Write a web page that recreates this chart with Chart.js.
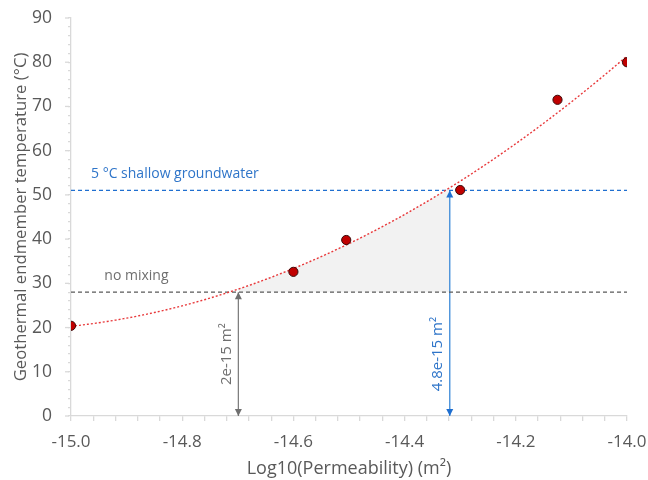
<!DOCTYPE html>
<html>
<head>
<meta charset="utf-8">
<script src="https://cdn.jsdelivr.net/npm/chart.js@4.4.1/dist/chart.umd.min.js"></script>
<style>
  html, body { margin: 0; padding: 0; background: #fff; }
  #wrap { width: 648px; height: 480px; }
</style>
</head>
<body>
<div id="wrap"><canvas id="chart" width="648" height="480"></canvas></div>
<script>
// Model runs: log10 permeability vs. geothermal endmember temperature
const logPerm = [-15.0, -14.6, -14.505, -14.3, -14.125, -14.0];
const endTemp = [20.4, 32.6, 39.8, 51.1, 71.5, 80.0];

// Mixing thresholds (°C) and the permeabilities where the fit crosses them
const thresholds = [28, 51];
const thresholdLabels = ['no mixing', '5 °C shallow groundwater'];
const crossPerm = [2e-15, 4.8e-15];
const crossLabels = ['2e-15 m²', '4.8e-15 m²'];

const xTicks = [-15.0, -14.8, -14.6, -14.4, -14.2, -14.0];
const yTicks = [0, 10, 20, 30, 40, 50, 60, 70, 80, 90];

const GRAY = '#595959';
const BLUE = '#2f75c9';
const AXIS = '#d9d9d9';
const FONT = 'Open Sans';

// second order polynomial trendline (least squares, x shifted for conditioning)
function polyFit2(xs, ys, x0) {
  let s = [0, 0, 0, 0, 0], t = [0, 0, 0];
  xs.forEach((x, i) => {
    const u = x - x0;
    for (let k = 0; k < 5; k++) s[k] += Math.pow(u, k);
    for (let k = 0; k < 3; k++) t[k] += ys[i] * Math.pow(u, k);
  });
  const m = [[s[0], s[1], s[2], t[0]], [s[1], s[2], s[3], t[1]], [s[2], s[3], s[4], t[2]]];
  for (let c = 0; c < 3; c++) {
    for (let r = c + 1; r < 3; r++) {
      const f = m[r][c] / m[c][c];
      for (let k = c; k < 4; k++) m[r][k] -= f * m[c][k];
    }
  }
  const a = [0, 0, 0];
  for (let r = 2; r >= 0; r--) {
    let v = m[r][3];
    for (let k = r + 1; k < 3; k++) v -= m[r][k] * a[k];
    a[r] = v / m[r][r];
  }
  return x => a[0] + a[1] * (x - x0) + a[2] * (x - x0) * (x - x0);
}

const fit = polyFit2(logPerm, endTemp, -15);
const xMin = xTicks[0], xMax = xTicks[xTicks.length - 1];
const trend = [];
for (let i = 0; i <= 200; i++) {
  const x = xMin + (xMax - xMin) * i / 200;
  trend.push({ x, y: fit(x) });
}

const crossX = crossPerm.map(k => Math.log10(k));

// area under the fit between the two crossings, above the no-mixing line
const shade = [];
for (let i = 0; i <= 60; i++) {
  const x = crossX[0] + (crossX[1] - crossX[0]) * i / 60;
  shade.push({ x, y: fit(x) });
}

const pts = logPerm.map((x, i) => ({ x, y: endTemp[i] }));

const hLines = thresholds.map((t, i) => ({
  data: [{ x: xMin, y: t }, { x: xMax, y: t }],
  borderColor: i === 0 ? '#5a5a5a' : '#1f6fd0',
  borderWidth: 1.3,
  borderDash: [4, 3],
  showLine: true,
  pointRadius: 0,
  order: 3
}));

const vLines = crossX.map((x, i) => ({
  data: [{ x, y: 0 }, { x, y: thresholds[i] }],
  borderColor: i === 0 ? '#7f7f7f' : '#3c8ad8',
  borderWidth: 1.3,
  showLine: true,
  pointRadius: 0,
  order: 3
}));

function nearMult(v, step) {
  return Math.abs(v / step - Math.round(v / step)) < 1e-6;
}

// longer marks for the labelled y ticks
const majorTicks = {
  id: 'majorTicks',
  afterDraw(chart) {
    const ctx = chart.ctx, ys = chart.scales.y;
    const x0 = ys.right;
    ctx.save();
    ctx.strokeStyle = AXIS;
    ctx.lineWidth = 1.3;
    yTicks.forEach(v => {
      const py = ys.getPixelForValue(v);
      ctx.beginPath();
      ctx.moveTo(x0 - 6, py);
      ctx.lineTo(x0 - 2, py);
      ctx.stroke();
    });
    ctx.restore();
  }
};

// arrowheads and annotation text
const annotate = {
  id: 'annotate',
  afterDatasetsDraw(chart) {
    const ctx = chart.ctx;
    const xs = chart.scales.x, ys = chart.scales.y;

    function head(px, py, dir, color) {
      ctx.beginPath();
      ctx.moveTo(px, py);
      ctx.lineTo(px - 3.5, py - dir * 7);
      ctx.lineTo(px + 3.5, py - dir * 7);
      ctx.closePath();
      ctx.fillStyle = color;
      ctx.fill();
    }

    ctx.save();
    crossX.forEach((x, i) => {
      const px = xs.getPixelForValue(x);
      const col = i === 0 ? '#6f6f6f' : '#1f6fd0';
      head(px, ys.getPixelForValue(0), 1, col);
      head(px, ys.getPixelForValue(thresholds[i]), -1, col);

      ctx.save();
      ctx.translate(px - 12, ys.getPixelForValue(14));
      ctx.rotate(-Math.PI / 2);
      ctx.font = '15px "' + FONT + '"';
      ctx.fillStyle = i === 0 ? '#6f6f6f' : BLUE;
      ctx.textAlign = 'center';
      ctx.textBaseline = 'middle';
      ctx.fillText(crossLabels[i], 0, 0);
      ctx.restore();
    });

    const textLeft = [xs.getPixelForValue(-14.94), xs.getPixelForValue(-14.964)];
    thresholds.forEach((t, i) => {
      ctx.font = '14px "' + FONT + '"';
      ctx.fillStyle = i === 0 ? '#6f6f6f' : BLUE;
      ctx.textAlign = 'left';
      ctx.textBaseline = 'middle';
      ctx.fillText(thresholdLabels[i], textLeft[i], ys.getPixelForValue(t) - 16);
    });
    ctx.restore();
  }
};

new Chart(document.getElementById('chart'), {
  type: 'scatter',
  data: {
    datasets: [
      {
        data: shade,
        showLine: true,
        borderWidth: 0,
        borderColor: 'rgba(0,0,0,0)',
        backgroundColor: '#f2f2f2',
        fill: { value: thresholds[0] },
        pointRadius: 0,
        order: 5
      },
      ...hLines,
      ...vLines,
      {
        data: trend,
        showLine: true,
        borderColor: '#e8383a',
        borderWidth: 1.4,
        borderDash: [2, 2],
        pointRadius: 0,
        order: 2
      },
      {
        data: pts,
        backgroundColor: '#c00000',
        borderColor: '#3b0a0a',
        borderWidth: 1,
        pointRadius: 4.6,
        order: 1
      }
    ]
  },
  options: {
    responsive: false,
    animation: false,
    layout: { padding: { top: 18, right: 21, left: 0, bottom: 0 } },
    plugins: {
      legend: { display: false },
      tooltip: { enabled: false }
    },
    scales: {
      x: {
        type: 'linear',
        min: xMin,
        max: xMax,
        afterFit: s => { s.height = 64; s.paddingLeft = 0; s.paddingRight = 0; },
        border: { color: AXIS, width: 1.3 },
        grid: { drawOnChartArea: false, drawTicks: true, tickLength: 5, color: AXIS, lineWidth: 1.3 },
        ticks: {
          stepSize: 0.04,
          autoSkip: false,
          maxRotation: 0,
          color: GRAY,
          font: { family: FONT, size: 17 },
          padding: 11,
          callback: v => (nearMult(v, 0.2) && xTicks.some(t => Math.abs(t - v) < 1e-6)) ? v.toFixed(1) : ''
        },
        title: {
          display: true,
          text: 'Log10(Permeability) (m²)',
          color: GRAY,
          font: { family: FONT, size: 18 },
          padding: { top: 0, bottom: 0 }
        }
      },
      y: {
        type: 'linear',
        min: yTicks[0],
        max: yTicks[yTicks.length - 1],
        afterFit: s => { s.width = 71; s.paddingTop = 0; s.paddingBottom = 0; },
        border: { color: AXIS, width: 1.3 },
        grid: { drawOnChartArea: false, drawTicks: true, tickLength: 3, color: AXIS, lineWidth: 1.3 },
        ticks: {
          stepSize: 2,
          autoSkip: false,
          color: GRAY,
          font: { family: FONT, size: 17.5 },
          padding: 16,
          callback: v => yTicks.includes(v) ? String(v) : ''
        },
        title: {
          display: true,
          text: 'Geothermal endmember temperature (°C)',
          color: GRAY,
          font: { family: FONT, size: 16.7 },
          padding: { top: 11, bottom: 0 }
        }
      }
    }
  },
  plugins: [annotate, majorTicks]
});
</script>
</body>
</html>
